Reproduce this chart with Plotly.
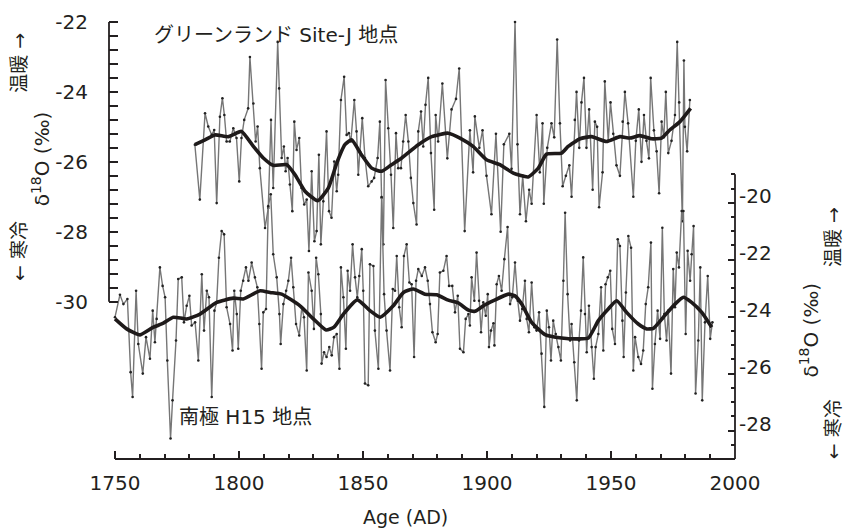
import plotly.graph_objects as go

# ---------------- data ----------------
gl_year = [1782.2, 1784.2, 1786.3, 1787.6, 1789.0, 1790.0, 1791.0, 1792.3, 1793.3, 1794.1,
           1795.0, 1796.3, 1797.7, 1799.0, 1800.1, 1801.0, 1802.1, 1803.7, 1804.4, 1805.8,
           1806.7, 1807.5, 1808.4, 1810.5, 1811.8, 1812.9, 1813.8, 1815.6, 1816.2, 1817.2,
           1818.1, 1818.8, 1819.6, 1820.5, 1821.5, 1822.3, 1823.2, 1824.3, 1825.2, 1826.3,
           1827.3, 1828.2, 1829.3, 1830.4, 1831.3, 1832.2, 1833.0, 1834.0, 1835.3, 1836.3,
           1837.3, 1838.4, 1839.4, 1840.0, 1841.1, 1842.4, 1843.4, 1844.3, 1845.1, 1846.5,
           1847.4, 1848.1, 1848.8, 1849.7, 1850.8, 1852.1, 1853.5, 1854.5, 1855.9, 1856.8,
           1857.5, 1858.2, 1859.1, 1860.2, 1861.3, 1862.2, 1863.3, 1864.2, 1865.3, 1866.2,
           1867.2, 1868.3, 1869.3, 1870.3, 1871.6, 1872.3, 1873.4, 1874.3, 1875.2, 1876.3,
           1877.4, 1878.7, 1879.3, 1880.3, 1882.0, 1884.0, 1885.7, 1887.5, 1888.8, 1891.0,
           1893.1, 1894.4, 1895.1, 1896.9, 1898.2, 1899.8, 1901.8, 1903.6, 1905.5, 1906.8,
           1909.0, 1909.9, 1911.3, 1912.3, 1913.3, 1914.4, 1915.7, 1917.0, 1918.0, 1920.0,
           1921.3, 1922.4, 1922.9, 1924.3, 1926.0, 1927.1, 1928.3, 1929.4, 1930.5, 1931.8,
           1933.2, 1934.1, 1935.4, 1936.1, 1937.2, 1938.1, 1939.1, 1940.1, 1941.2, 1942.6,
           1943.5, 1944.4, 1945.2, 1946.6, 1947.5, 1948.9, 1949.8, 1950.9, 1952.2, 1953.6,
           1954.7, 1955.6, 1956.9, 1959.0, 1960.0, 1961.2, 1962.3, 1963.3, 1964.3, 1965.3,
           1966.0, 1967.3, 1968.4, 1969.4, 1970.4, 1971.3, 1972.1, 1973.1, 1974.4, 1975.8,
           1976.7, 1977.5, 1978.8, 1979.4, 1979.8, 1980.7, 1981.8]
gl_d18o = [-25.51, -27.08, -24.61, -24.99, -25.23, -25.09, -27.18, -24.71, -24.18, -24.66,
           -25.42, -25.42, -25.04, -25.32, -26.56, -25.32, -24.80, -24.47, -23.00, -24.33,
           -25.42, -24.99, -26.18, -27.89, -27.32, -24.80, -26.75, -22.57, -23.90, -25.89,
           -25.56, -26.27, -25.89, -26.65, -27.41, -24.85, -25.66, -25.32, -26.75, -27.22,
           -27.08, -28.55, -26.27, -28.27, -27.98, -25.80, -28.36, -27.13, -25.13, -27.41,
           -27.60, -25.99, -26.84, -26.37, -24.23, -23.57, -25.23, -25.18, -25.42, -24.23,
           -25.13, -26.37, -25.70, -24.75, -25.89, -26.70, -26.56, -26.46, -25.89, -24.85,
           -27.03, -28.36, -23.66, -25.04, -26.37, -27.89, -25.18, -26.18, -26.18, -25.42,
           -24.66, -25.42, -26.46, -27.18, -27.79, -25.13, -24.56, -25.56, -24.37, -23.60,
           -25.75, -27.37, -24.66, -25.42, -23.76, -25.90, -24.50, -24.20, -23.33, -27.98,
           -25.10, -26.30, -24.70, -25.60, -25.10, -26.40, -27.50, -25.20, -28.00, -25.50,
           -25.20, -26.20, -22.00, -25.50, -27.50, -26.40, -27.70, -26.80, -27.20, -24.66,
           -26.30, -24.90, -27.20, -25.60, -24.90, -25.30, -22.50, -24.90, -26.70, -26.40,
           -26.10, -27.00, -24.80, -24.00, -25.60, -24.30, -23.60, -25.60, -24.50, -26.80,
           -24.85, -25.00, -27.30, -26.30, -23.70, -25.40, -24.30, -25.20, -26.10, -26.40,
           -24.85, -24.00, -24.90, -27.00, -25.40, -24.50, -26.00, -24.66, -25.40, -25.90,
           -23.60, -25.10, -25.70, -26.90, -24.85, -25.30, -24.00, -25.75, -25.40, -24.66,
           -22.57, -24.30, -27.70, -23.10, -25.00, -25.70, -24.23]

gl_smooth_year = [1782.2, 1786.3, 1790.3, 1795.7, 1801.0, 1805.8, 1809.8, 1813.8, 1819.2,
                  1822.6, 1826.6, 1831.7, 1836.0, 1839.4, 1842.7, 1845.4, 1849.4, 1853.5,
                  1857.5, 1861.5, 1865.6, 1872.3, 1877.7, 1884.4, 1889.1, 1894.4, 1899.8,
                  1905.2, 1910.6, 1916.6, 1920.7, 1924.0, 1930.1, 1932.7, 1937.5, 1942.2,
                  1948.2, 1953.6, 1957.6, 1961.6, 1966.3, 1970.4, 1973.7, 1977.8, 1982.1]
gl_smooth = [-25.51, -25.37, -25.23, -25.28, -25.13, -25.56, -25.89, -26.10, -26.08,
             -26.37, -26.84, -27.11, -26.75, -26.04, -25.51, -25.37, -25.80, -26.18,
             -26.27, -26.08, -25.89, -25.51, -25.28, -25.18, -25.32, -25.56, -25.94,
             -26.08, -26.32, -26.43, -26.18, -25.78, -25.75, -25.56, -25.34, -25.28,
             -25.42, -25.28, -25.32, -25.25, -25.34, -25.32, -25.09, -24.85, -24.47]

sp_year = [1750.0, 1752.0, 1753.4, 1755.0, 1756.3, 1757.1, 1758.5, 1759.4, 1761.2, 1762.5,
           1764.1, 1765.2, 1766.1, 1766.8, 1768.1, 1769.2, 1770.2, 1771.1, 1772.4, 1773.2,
           1774.6, 1775.5, 1776.9, 1777.8, 1778.9, 1780.0, 1780.9, 1782.3, 1783.6, 1785.0,
           1785.9, 1787.0, 1787.9, 1789.0, 1790.1, 1791.0, 1791.9, 1793.0, 1794.0, 1795.0,
           1796.4, 1797.4, 1798.1, 1799.1, 1799.7, 1800.7, 1801.7, 1802.8, 1803.8, 1805.1,
           1806.4, 1807.4, 1808.2, 1809.1, 1809.8, 1810.9, 1811.8, 1812.8, 1813.8, 1815.2,
           1816.3, 1816.8, 1817.9, 1819.0, 1819.9, 1821.0, 1821.9, 1823.0, 1824.3, 1825.3,
           1826.2, 1827.3, 1828.0, 1829.3, 1830.2, 1831.1, 1832.0, 1833.0, 1833.3, 1834.3,
           1835.3, 1836.4, 1837.4, 1838.3, 1839.4, 1840.5, 1841.1, 1842.1, 1843.1, 1843.8,
           1844.8, 1845.8, 1846.8, 1847.7, 1848.5, 1849.5, 1850.1, 1850.8, 1852.1, 1852.8,
           1854.2, 1854.8, 1856.2, 1857.5, 1858.5, 1859.5, 1860.9, 1862.0, 1862.9, 1863.6,
           1864.6, 1865.6, 1866.5, 1867.6, 1868.7, 1869.6, 1870.6, 1871.4, 1872.3, 1873.7,
           1875.0, 1876.1, 1877.0, 1878.0, 1879.3, 1880.1, 1881.0, 1882.4, 1883.7, 1884.7,
           1886.0, 1887.1, 1888.2, 1889.1, 1890.5, 1891.4, 1892.5, 1893.1, 1893.8, 1894.9,
           1895.8, 1896.8, 1897.6, 1898.5, 1899.5, 1900.3, 1900.8, 1901.6, 1902.6, 1903.0,
           1903.9, 1904.8, 1905.9, 1907.0, 1908.3, 1909.3, 1910.2, 1911.3, 1912.4, 1913.3,
           1914.2, 1915.3, 1916.0, 1916.9, 1918.0, 1919.1, 1920.0, 1921.0, 1922.0, 1923.1,
           1924.1, 1925.0, 1925.8, 1926.7, 1927.7, 1928.8, 1929.8, 1930.8, 1931.5, 1932.5,
           1933.5, 1934.1, 1935.2, 1936.2, 1937.1, 1937.9, 1938.8, 1939.5, 1940.2, 1941.1,
           1942.2, 1943.1, 1943.8, 1944.9, 1946.0, 1946.9, 1947.8, 1948.7, 1949.7, 1950.5,
           1951.6, 1952.7, 1953.6, 1954.6, 1955.1, 1956.0, 1957.0, 1958.1, 1959.0, 1959.7,
           1961.0, 1962.1, 1963.0, 1964.0, 1965.0, 1966.1, 1966.7, 1967.7, 1968.8, 1969.8,
           1970.7, 1971.5, 1972.4, 1973.1, 1974.2, 1975.1, 1975.8, 1976.5, 1977.4, 1978.5,
           1979.2, 1980.1, 1980.9, 1981.9, 1982.5, 1983.3, 1984.1, 1985.2, 1986.0, 1986.8,
           1987.9, 1989.0, 1990.0, 1990.9]
sp_d18o = [-24.02, -23.23, -23.56, -23.38, -25.95, -26.82, -23.09, -24.96, -26.00, -24.72,
           -25.48, -23.79, -24.90, -24.08, -22.27, -22.92, -23.32, -25.54, -28.28, -26.94,
           -24.84, -22.68, -22.62, -24.20, -23.62, -23.27, -24.31, -24.20, -25.54, -22.51,
           -24.49, -23.09, -23.32, -26.82, -23.79, -23.50, -21.93, -20.99, -21.11, -23.67,
           -24.26, -25.19, -23.09, -23.91, -25.13, -23.09, -22.74, -22.27, -22.74, -22.10,
           -22.62, -22.97, -24.26, -25.83, -23.85, -23.73, -20.12, -19.70, -21.81, -22.62,
           -23.91, -24.96, -23.56, -23.09, -22.74, -21.93, -22.97, -24.26, -24.66, -23.67,
           -24.02, -25.89, -22.45, -23.09, -24.43, -21.93, -22.51, -23.91, -25.65, -25.25,
           -25.42, -25.07, -25.36, -24.72, -24.61, -25.83, -22.27, -23.32, -25.13, -22.39,
           -23.09, -21.46, -22.62, -23.32, -22.57, -21.63, -23.09, -26.35, -26.41, -22.16,
           -22.22, -24.49, -25.83, -19.80, -23.21, -24.49, -25.89, -23.03, -23.09, -21.87,
           -23.67, -24.37, -21.87, -21.46, -22.80, -22.86, -25.42, -22.74, -22.33, -22.57,
           -22.27, -22.74, -23.56, -24.55, -24.90, -24.61, -22.45, -22.39, -21.87, -22.92,
           -22.92, -23.85, -23.27, -25.13, -25.25, -24.08, -23.91, -24.31, -22.62, -23.44,
           -21.75, -23.44, -24.55, -23.50, -23.97, -23.21, -25.07, -24.49, -24.23, -25.01,
           -22.86, -22.57, -23.09, -21.98, -20.85, -23.56, -23.32, -22.10, -23.44, -24.14,
           -23.73, -22.74, -24.08, -24.55, -22.80, -24.37, -24.49, -23.85, -25.30, -27.17,
           -23.79, -24.37, -25.54, -24.14, -24.61, -25.07, -25.54, -22.74, -20.35, -23.21,
           -24.84, -24.26, -25.60, -26.94, -24.84, -23.79, -21.92, -23.91, -25.25, -23.62,
           -25.07, -26.18, -25.07, -24.61, -22.97, -25.19, -22.86, -22.62, -22.39, -24.43,
           -24.96, -21.28, -21.52, -24.14, -25.42, -23.15, -21.17, -21.58, -25.89, -24.72,
           -25.42, -25.66, -25.19, -23.56, -22.97, -21.40, -26.53, -24.96, -23.79, -24.78,
           -20.88, -23.91, -24.84, -23.79, -26.00, -22.33, -23.67, -21.75, -22.27, -20.29,
           -20.29, -24.61, -21.69, -22.74, -21.81, -20.82, -26.70, -24.84, -22.27, -26.94,
           -24.20, -22.57, -24.78, -24.20]

sp_smooth_year = [1750.0, 1754.7, 1760.1, 1765.5, 1769.5, 1773.5, 1778.9, 1784.3, 1791.0,
                  1797.7, 1801.7, 1808.5, 1812.5, 1817.2, 1824.6, 1830.0, 1835.1, 1838.3,
                  1842.1, 1847.7, 1852.8, 1856.9, 1862.2, 1866.3, 1870.3, 1875.0, 1879.7,
                  1884.4, 1888.4, 1892.5, 1895.2, 1898.5, 1902.6, 1908.6, 1911.3, 1914.0,
                  1918.0, 1923.4, 1930.1, 1936.8, 1940.9, 1944.9, 1948.9, 1952.3, 1956.3,
                  1961.0, 1964.4, 1967.1, 1971.1, 1975.8, 1979.2, 1982.5, 1986.6, 1990.6]
sp_smooth = [-24.08, -24.43, -24.64, -24.37, -24.23, -24.02, -24.08, -23.91, -23.50,
             -23.35, -23.38, -23.09, -23.15, -23.21, -23.62, -24.08, -24.47, -24.37,
             -23.91, -23.41, -23.79, -24.02, -23.62, -23.15, -23.03, -23.21, -23.23,
             -23.42, -23.52, -23.77, -23.81, -23.62, -23.44, -23.21, -23.27, -23.56,
             -24.20, -24.63, -24.75, -24.78, -24.75, -24.14, -23.73, -23.44, -23.85,
             -24.26, -24.43, -24.41, -24.02, -23.56, -23.32, -23.50, -23.85, -24.37]

x_major = [1750, 1800, 1850, 1900, 1950, 2000]
left_major = [-22, -24, -26, -28, -30]
right_major = [-20, -22, -24, -26, -28]

# ---------------- layout geometry (pixels) ----------------
W, H = 843, 528
L, R, T, B = 109, 108, 10, 69
PW, PH = W - L - R, H - T - B
X0, X1 = 1747.58, 2000.0
Y_RANGE = [-34.498, -21.715]
Y2_RANGE = [-29.0, -13.30]


def px(xp):
    return (xp - L) / PW


def py(yp):
    return (H - B - yp) / PH


FONT = "DejaVu Sans, Noto Sans CJK JP, sans-serif"
INK = "#231f20"
TICK = INK

fig = go.Figure()
thin = dict(color="#767676", width=1.4)
dots = dict(size=2.6, color="#222222")
thick = dict(color="#1e1a1a", width=3.6, shape="spline", smoothing=0.5)

fig.add_trace(go.Scatter(x=sp_year, y=sp_d18o, mode="lines+markers", line=thin,
                         marker=dots, yaxis="y2", hoverinfo="skip"))
fig.add_trace(go.Scatter(x=gl_year, y=gl_d18o, mode="lines+markers", line=thin,
                         marker=dots, yaxis="y", hoverinfo="skip"))
fig.add_trace(go.Scatter(x=sp_smooth_year, y=sp_smooth, mode="lines", line=thick,
                         yaxis="y2", hoverinfo="skip"))
fig.add_trace(go.Scatter(x=gl_smooth_year, y=gl_smooth, mode="lines", line=thick,
                         yaxis="y", hoverinfo="skip"))

x_minor = [v for v in range(1760, 2000, 10) if v % 50 != 0]
left_minor = [round(-22 - 0.4 * i, 2) for i in range(1, 20) if i % 5 != 0]
right_minor = [round(-19 - 0.5 * i, 2) for i in range(0, 21) if (i % 4) != 2]

tickfont = dict(family=FONT, size=20, color=INK)

fig.update_layout(
    width=W, height=H, autosize=False,
    margin=dict(l=L, r=R, t=T, b=B, pad=0),
    plot_bgcolor="white", paper_bgcolor="white",
    showlegend=False,
    font=dict(family=FONT, color=INK),
    xaxis=dict(range=[X0, X1], showline=False, showgrid=False, zeroline=False,
               tickmode="array", tickvals=x_major, ticktext=[str(v) for v in x_major],
               ticks="inside", ticklen=8, tickwidth=2, tickcolor=TICK,
               tickfont=tickfont, ticklabelstandoff=10,
               minor=dict(tickmode="array", tickvals=x_minor, ticks="inside",
                          ticklen=5, tickwidth=2, tickcolor=TICK)),
    yaxis=dict(range=Y_RANGE, showline=False, showgrid=False, zeroline=False,
               tickmode="array", tickvals=left_major,
               ticktext=[str(v) for v in left_major],
               ticks="inside", ticklen=9, tickwidth=2, tickcolor=TICK,
               tickfont=tickfont, ticklabelstandoff=20,
               minor=dict(tickmode="array", tickvals=left_minor, ticks="inside",
                          ticklen=9, tickwidth=2, tickcolor=TICK)),
    yaxis2=dict(range=Y2_RANGE, overlaying="y", side="right", anchor="x",
                showline=False, showgrid=False, zeroline=False,
                tickmode="array", tickvals=right_major,
                ticktext=[str(v) for v in right_major],
                ticks="inside", ticklen=7, tickwidth=2, tickcolor=TICK,
                tickfont=tickfont, ticklabelstandoff=3, ticklabelshift=-7,
                minor=dict(tickmode="array", tickvals=right_minor, ticks="inside",
                           ticklen=4, tickwidth=2, tickcolor=TICK)),
)

# axis spines (partial, as in the original figure)
spine = dict(color=INK, width=1.8)
fig.add_shape(type="line", xref="paper", x0=0, x1=0, yref="y", y0=-22, y1=-30, line=spine)
fig.add_shape(type="line", xref="x", x0=1750, x1=2000, yref="paper", y0=0, y1=0, line=spine)
fig.add_shape(type="line", xref="paper", x0=1, x1=1, yref="y2", y0=-19, y1=-29, line=spine)


def ann(text, xp, yp, size, angle=0, xanchor="center"):
    fig.add_annotation(text=text, xref="paper", yref="paper", x=px(xp), y=py(yp),
                       xanchor=xanchor, yanchor="middle", showarrow=False, textangle=angle,
                       font=dict(family=FONT, size=size, color=INK))


ann("グリーンランド Site-J 地点", 152, 33, 20, xanchor="left")
ann("南極 H15 地点", 177, 417, 20, xanchor="left")
ann("Age (AD)", 405, 517, 19)

ann("温暖 →", 19, 61, 19, angle=-90)
ann("δ<sup>18</sup>O (‰)", 41, 158, 20, angle=-90)
ann("← 寒冷", 19, 250, 19, angle=-90)

ann("温暖 →", 833, 236, 19, angle=-90)
ann("δ<sup>18</sup>O (‰)", 809, 330, 20, angle=-90)
ann("← 寒冷", 833, 429, 19, angle=-90)

fig.write_html("out.html")
